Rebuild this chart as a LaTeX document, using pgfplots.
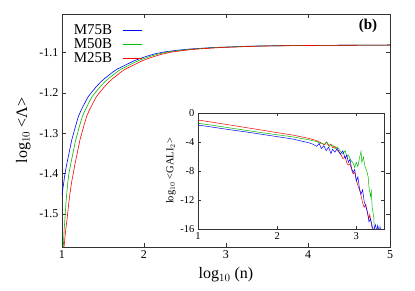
\documentclass[border=0pt]{standalone}
\usepackage{fontspec}
\setmainfont{Liberation Serif}
\usepackage{pgfplots}
\pgfplotsset{compat=1.18}
\definecolor{gblue}{RGB}{0,0,255}
\definecolor{ggreen}{RGB}{0,190,0}
\definecolor{gred}{RGB}{255,0,0}
\begin{document}
\begin{tikzpicture}
\begin{axis}[
  name=main,
  scale only axis, width=328pt, height=233pt,
  xmin=1, xmax=5, ymin=-1.582, ymax=-1.004,
  xtick={1,2,3,4,5}, xticklabels={1,2,3,4,5},
  ytick={-1.5,-1.4,-1.3,-1.2,-1.1}, yticklabels={-1.5,-1.4,-1.3,-1.2,-1.1},
  tick align=inside, major tick length=4pt,
  axis line style={line width=0.8pt, black!80},
  tick style={black!80, line width=0.6pt},
  tick label style={font=\fontsize{12}{14}\selectfont},
  xlabel={log$_{10}$ (n)}, ylabel={log$_{10}$ <Λ>},
  label style={font=\fontsize{16}{19}\selectfont},
  xlabel style={yshift=-2pt},
  ylabel style={yshift=2pt},
  legend plot pos=right,
  legend cell align=left,
  legend style={draw=none, fill=none, at={(rel axis cs:0.02,0.972)}, anchor=north west,
    font=\fontsize{15}{15}\selectfont, row sep=-1.5pt, column sep=8pt},
  legend image code/.code={\draw[#1, line width=1pt] (0cm,0cm) -- (0.68cm,0cm);},
  every axis plot/.append style={line width=0.6pt},
  clip=true,
]
\addplot[gblue] coordinates {
(1.00,-1.453)(1.02,-1.424)(1.037,-1.399)(1.06,-1.374)(1.08,-1.355)(1.10,-1.335)(1.118,-1.317)(1.14,-1.301)(1.16,-1.286)(1.18,-1.272)(1.199,-1.259)(1.23,-1.244)(1.26,-1.232)(1.29,-1.220)(1.32,-1.209)(1.37,-1.196)(1.42,-1.184)(1.47,-1.173)(1.52,-1.164)(1.57,-1.156)(1.62,-1.148)(1.67,-1.141)(1.73,-1.135)(1.78,-1.130)(1.83,-1.125)(1.88,-1.120)(1.93,-1.116)(2.03,-1.109)(2.13,-1.103)(2.25,-1.098)(2.4,-1.094)(2.55,-1.091)(2.7,-1.089)(2.85,-1.087)(3.0,-1.086)(3.25,-1.084)(3.5,-1.083)(4.0,-1.082)(4.5,-1.0815)(5.0,-1.081)};
\addlegendentry{M75B}
\addplot[ggreen] coordinates {
(1.016,-1.582)(1.026,-1.540)(1.037,-1.507)(1.048,-1.474)(1.06,-1.445)(1.072,-1.420)(1.085,-1.399)(1.108,-1.374)(1.128,-1.355)(1.148,-1.335)(1.166,-1.317)(1.188,-1.301)(1.208,-1.286)(1.228,-1.272)(1.247,-1.259)(1.278,-1.244)(1.308,-1.232)(1.338,-1.220)(1.368,-1.209)(1.418,-1.196)(1.468,-1.184)(1.518,-1.173)(1.568,-1.164)(1.618,-1.156)(1.668,-1.148)(1.718,-1.141)(1.778,-1.135)(1.828,-1.130)(1.878,-1.125)(1.928,-1.120)(1.978,-1.116)(2.078,-1.109)(2.178,-1.103)(2.298,-1.098)(2.448,-1.094)(2.598,-1.091)(2.748,-1.089)(2.898,-1.087)(3.048,-1.086)(3.3,-1.084)(3.55,-1.083)(4.05,-1.082)(4.5,-1.0815)(5.0,-1.081)};
\addlegendentry{M50B}
\addplot[gred] coordinates {
(1.025,-1.582)(1.045,-1.540)(1.065,-1.507)(1.082,-1.474)(1.10,-1.445)(1.118,-1.420)(1.138,-1.399)(1.16,-1.374)(1.18,-1.355)(1.20,-1.335)(1.218,-1.317)(1.24,-1.301)(1.26,-1.286)(1.28,-1.272)(1.299,-1.259)(1.33,-1.244)(1.36,-1.232)(1.39,-1.220)(1.42,-1.209)(1.47,-1.196)(1.52,-1.184)(1.57,-1.173)(1.62,-1.164)(1.67,-1.156)(1.72,-1.148)(1.77,-1.141)(1.83,-1.135)(1.88,-1.130)(1.93,-1.125)(1.98,-1.120)(2.03,-1.116)(2.13,-1.109)(2.23,-1.103)(2.35,-1.098)(2.5,-1.094)(2.65,-1.091)(2.8,-1.089)(2.95,-1.087)(3.1,-1.086)(3.35,-1.084)(3.6,-1.083)(4.1,-1.082)(4.5,-1.0815)(5.0,-1.081)};
\addlegendentry{M25B}
\node[font=\bfseries\fontsize{15}{18}\selectfont] at (rel axis cs:0.933,0.948) {(b)};
\end{axis}
\begin{axis}[
  at={(136pt,18pt)}, anchor=south west,
  scale only axis, width=186pt, height=116pt,
  xmin=1, xmax=3.35, ymin=-16, ymax=0,
  xtick={1,2,3}, xticklabels={1,2,3},
  ytick={-16,-12,-8,-4,0}, yticklabels={-16,-12,-8,-4,0},
  axis background/.style={fill=white},
  tick align=inside, major tick length=3pt,
  axis line style={line width=0.8pt, black!80},
  tick style={black!80, line width=0.6pt},
  tick label style={font=\fontsize{10.5}{12}\selectfont},
  ylabel={log$_{10}$ <GALI$_2$>},
  ylabel style={font=\fontsize{10.5}{12}\selectfont, yshift=-2pt},
  every axis plot/.append style={line width=0.5pt},
  clip=true,
]
\addplot[gred] coordinates {
(1,-0.97)(1.2,-1.3)(1.4,-1.65)(1.6,-2.0)(1.8,-2.35)(2.0,-2.71)(2.2,-3.05)(2.4,-3.5)(2.5,-3.8)(2.55,-4.1)(2.6,-4.4)(2.62,-4.0)(2.65,-4.5)(2.68,-4.3)(2.7,-4.8)(2.73,-4.6)(2.76,-5.2)(2.8,-5.6)(2.83,-6.3)(2.86,-6.0)(2.88,-6.9)(2.9,-7.2)(2.92,-7.0)(2.94,-7.8)(2.96,-8.4)(2.98,-8.2)(3.0,-9.2)(3.02,-10.0)(3.04,-10.6)(3.06,-11.4)(3.08,-12.4)(3.1,-13.0)(3.12,-12.6)(3.14,-13.8)(3.16,-14.6)(3.17,-14.0)(3.19,-15.3)(3.21,-16.5)};
\addplot[ggreen] coordinates {
(1,-1.42)(1.2,-1.72)(1.4,-2.05)(1.6,-2.38)(1.8,-2.7)(2.0,-3.0)(2.2,-3.3)(2.4,-3.7)(2.5,-3.95)(2.55,-4.2)(2.6,-4.3)(2.63,-4.0)(2.66,-4.6)(2.7,-4.4)(2.73,-4.9)(2.76,-4.7)(2.8,-5.3)(2.83,-5.6)(2.86,-5.2)(2.88,-6.0)(2.9,-5.8)(2.93,-6.5)(2.96,-6.9)(2.98,-7.5)(3.0,-6.8)(3.02,-7.4)(3.04,-6.2)(3.06,-5.3)(3.07,-6.8)(3.09,-6.1)(3.11,-7.4)(3.13,-7.9)(3.15,-8.8)(3.16,-10.2)(3.18,-11.5)(3.19,-10.8)(3.2,-13.0)(3.22,-14.3)(3.23,-16.5)};
\addplot[gblue] coordinates {
(1,-1.66)(1.2,-1.98)(1.4,-2.3)(1.6,-2.6)(1.8,-2.93)(2.0,-3.26)(2.2,-3.6)(2.4,-4.1)(2.45,-4.3)(2.5,-4.6)(2.53,-4.2)(2.56,-4.9)(2.59,-4.5)(2.62,-5.2)(2.65,-4.7)(2.68,-5.6)(2.7,-5.0)(2.73,-5.4)(2.76,-4.9)(2.8,-5.7)(2.83,-5.2)(2.86,-6.3)(2.88,-5.8)(2.9,-6.8)(2.92,-6.4)(2.94,-7.6)(2.96,-8.2)(2.98,-7.8)(3.0,-9.4)(3.02,-8.8)(3.04,-10.4)(3.06,-11.2)(3.08,-10.6)(3.1,-12.2)(3.12,-12.9)(3.14,-13.6)(3.16,-15.0)(3.18,-14.6)(3.2,-15.6)(3.22,-16.2)(3.24,-15.4)(3.26,-16.3)(3.27,-15.5)(3.29,-16.4)(3.3,-15.7)(3.31,-16.5)};
\end{axis}
\pgfresetboundingbox
\path[use as bounding box] (-62pt,-44pt) rectangle (353pt,247pt);
\end{tikzpicture}
\end{document}
